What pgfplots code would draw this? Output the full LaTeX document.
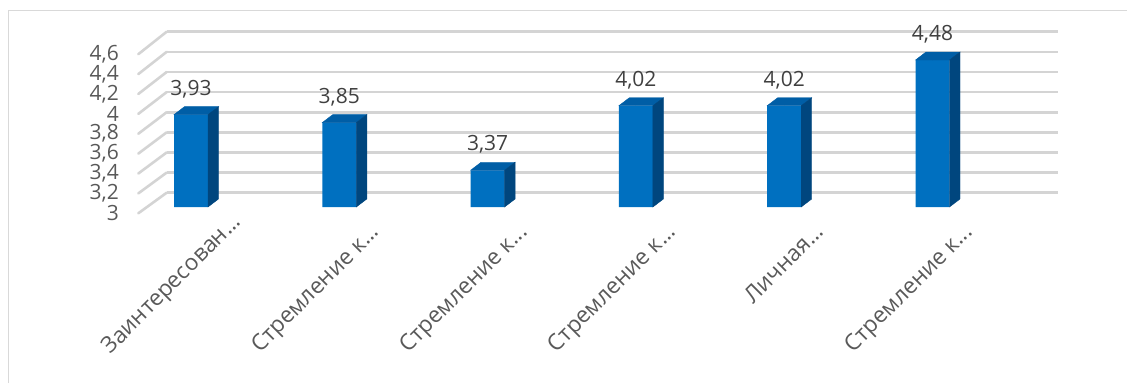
\documentclass[border=0pt]{standalone}
\usepackage{fontspec}
\setmainfont{Open Sans}
\usepackage{pgfplots}
\usepackage{pgfplotstable}
\pgfplotsset{compat=1.18}
\definecolor{barfront}{HTML}{0070C0}
\definecolor{bartop}{HTML}{005EA6}
\definecolor{barside}{HTML}{00467E}
\definecolor{gridc}{HTML}{D4D4D4}
\definecolor{txt}{HTML}{595959}
\definecolor{valtxt}{HTML}{404040}
\definecolor{framec}{HTML}{D9D9D9}
\pgfplotstableread{
x y
0 3.93
1 3.85
2 3.37
3 4.02
4 4.02
5 4.48
}\bardata
\newcommand{\lbl}{\fontsize{21}{25}\selectfont}
\newcommand{\cat}{\fontsize{22.5}{27}\selectfont}
\newcommand{\el}{.\kern0pt.\kern0pt.}
\begin{document}
\begin{tikzpicture}[x=1pt,y=1pt]
\useasboundingbox (0,0) rectangle (1127,-383);
\draw[framec, line width=1pt] (8,-383) -- (8,-10.7) -- (1127,-10.7);
% back plane with gridlines
\begin{axis}[
  at={(166.7pt,-192.7pt)}, anchor=south west,
  scale only axis, width=891pt, height=161pt,
  xmin=0, xmax=1, ymin=3, ymax=4.6,
  ytick={3,3.2,3.4,3.6,3.8,4,4.2,4.4,4.6}, xtick=\empty, yticklabels={},
  ymajorgrids, grid style={gridc, line width=2.6pt},
  axis line style={draw=none}, major tick length=0pt,
  clip=false,
]
\pgfplotsinvokeforeach{3,3.2,3.4,3.6,3.8,4,4.2,4.4,4.6}{
  \draw[gridc, line width=2.6pt, line cap=round] (axis cs:0,#1) -- ++(-28.4pt,{-20.6pt-(#1-3)*1.2pt});
}
\end{axis}
% bar plane
\begin{axis}[
  at={(116.85pt,-207pt)}, anchor=south west,
  scale only axis, width=889.8pt, height=158.9pt,
  xmin=-0.5, xmax=5.5, ymin=3, ymax=4.6,
  ytick={3,3.2,3.4,3.6,3.8,4,4.2,4.4,4.6},
  xtick={0,1,2,3,4,5},
  xticklabels={{Заинтересован\el\kern-14pt}, {Стремление к\el}, {Стремление к\el}, {Стремление к\el}, {Личная\el}, {Стремление к\el}},
  axis line style={draw=none}, major tick length=0pt,
  /pgf/number format/use comma,
  /pgf/number format/assume math mode=true,
  yticklabel style={font=\lbl, text=txt, anchor=east, inner sep=0pt, xshift=2.2pt, yshift=-6pt},
  xticklabel style={font=\cat, text=txt, inner sep=0pt, xshift=41pt, yshift=-26pt, rotate=45, anchor=base east},
]
\addplot[ybar, bar width=34pt, fill=barfront, draw=none,
  point meta=y,
  nodes near coords={\pgfmathprintnumber[fixed,fixed zerofill,precision=2,use comma]{\pgfplotspointmeta}},
  every node near coord/.append style={anchor=base, yshift=19.5pt, font=\lbl, text=valtxt, inner sep=0pt},
] table[x=x,y=y] {\bardata};
\addplot[scatter, only marks, mark=*, mark size=0pt, mark options={draw=none, fill=none},
  point meta=y,
  visualization depends on={\thisrow{y} \as \rawy},
  scatter/@pre marker code/.code={%
    \pgfmathsetmacro{\hh}{(\rawy-3)*99.3}%
    \fill[bartop] (-17pt,0pt) -- (17pt,0pt) -- (27.5pt,8pt) -- (-6.5pt,8pt) -- cycle;
    \fill[barside] (17pt,0pt) -- (27.5pt,8pt) -- (27.5pt,{(8-\hh)*1pt}) -- (17pt,{-\hh*1pt}) -- cycle;
  },
  scatter/@post marker code/.code={},
] table[x=x,y=y] {\bardata};
\end{axis}
\end{tikzpicture}
\end{document}
